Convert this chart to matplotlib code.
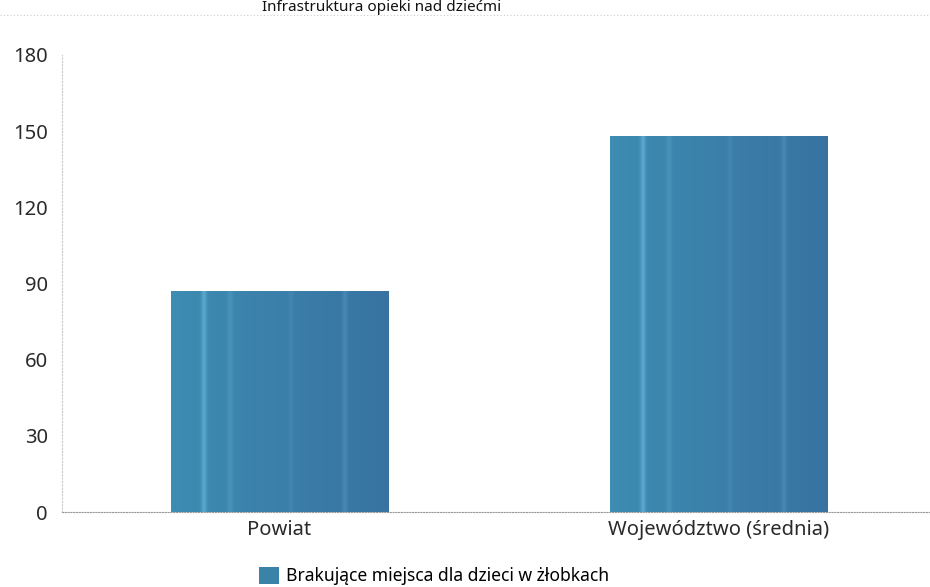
import matplotlib
matplotlib.use("Agg")
import matplotlib.pyplot as plt
import numpy as np
from matplotlib.lines import Line2D
from matplotlib.patches import Patch

plt.rcParams['font.family'] = ['Noto Sans', 'DejaVu Sans']

categories = ["Powiat", "Województwo (średnia)"]
values = [87, 148]
series_name = "Brakujące miejsca dla dzieci w żłobkach"
yticks = [0, 30, 60, 90, 120, 150, 180]
title = "Infrastruktura opieki nad dziećmi"

W, H = 930, 587
fig = plt.figure(figsize=(W / 100, H / 100), dpi=100)
ax = fig.add_axes([62 / W, 1 - 512 / H, (W - 62) / W, (512 - 55) / H])

x = np.arange(len(categories))
bars = ax.bar(x, values, width=0.495, color="#3a82a8", zorder=2)

# streaked gradient overlay clipped to each bar
prof = np.linspace(0, 1, 200)
base = np.array([0.24, 0.55, 0.70])
dark = np.array([0.22, 0.45, 0.63])
cols = base[None, :] * (1 - prof[:, None]) + dark[None, :] * prof[:, None]
for pos, amp in [(0.15, 0.12), (0.27, 0.05), (0.55, 0.03), (0.80, 0.06)]:
    cols += amp * np.exp(-((prof - pos) / 0.012) ** 2)[:, None]
cols = np.clip(cols, 0, 1)
img = np.tile(cols[None, :, :], (10, 1, 1))
for b in bars:
    x0, y0 = b.get_x(), b.get_y()
    im = ax.imshow(img, extent=[x0, x0 + b.get_width(), y0, y0 + b.get_height()],
                   aspect='auto', zorder=3, interpolation='bilinear')
    im.set_clip_path(b)

ax.set_xlim(-0.496, 1.483)
ax.set_ylim(0, 180)
ax.set_yticks(yticks)
ax.set_xticks(x)
ax.set_xticklabels(categories)
ax.tick_params(axis='both', length=0, labelsize=14.5, colors="#2a2a2a")
ax.tick_params(axis='y', pad=10)
ax.tick_params(axis='x', pad=6)

for s in ['top', 'right']:
    ax.spines[s].set_visible(False)
ax.spines['left'].set_linestyle((0, (1, 2)))
ax.spines['left'].set_color("#c8c8c8")
ax.spines['left'].set_linewidth(0.8)
ax.spines['bottom'].set_linestyle((0, (1, 1.5)))
ax.spines['bottom'].set_color("#999999")
ax.spines['bottom'].set_linewidth(0.8)
ax.set_facecolor('none')

# title at the very top
fig.text(262 / W, 1 - 11 / H, title, fontsize=11, color="#111111", va='baseline', ha='left')
fig.add_artist(Line2D([0, 1], [1 - 15 / H, 1 - 15 / H], transform=fig.transFigure,
                      color="#cccccc", lw=0.8, linestyle=(0, (1, 2))))

handle = Patch(facecolor="#3a82a8", edgecolor='none')
fig.legend([handle], [series_name], loc='center', bbox_to_anchor=(434 / W, 1 - 576 / H),
           frameon=False, fontsize=12.6, handlelength=1.1, handleheight=1.1,
           handletextpad=0.4, borderaxespad=0)

fig.savefig("out.png", dpi=100)
